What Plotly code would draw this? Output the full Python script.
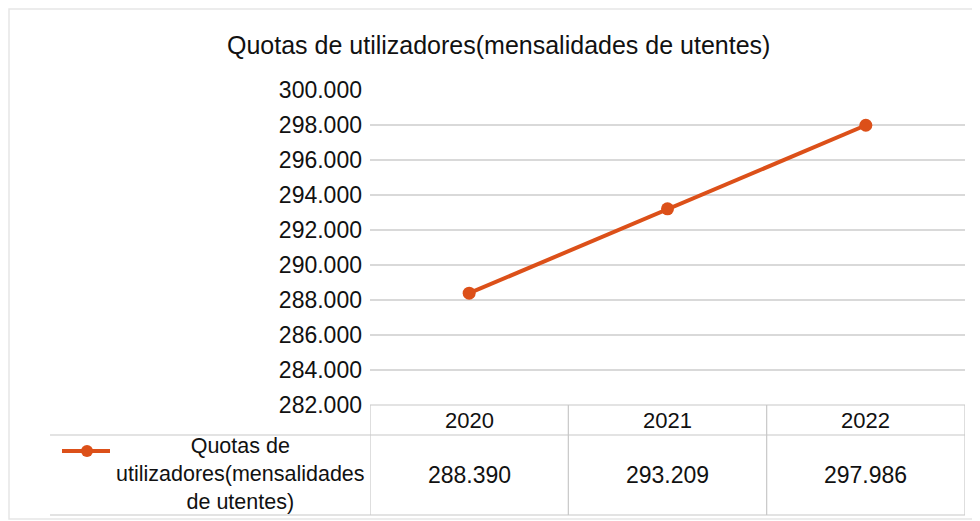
import plotly.graph_objects as go

categories = ["2020", "2021", "2022"]
values = [288390, 293209, 297986]
series_name = "Quotas de utilizadores(mensalidades de utentes)"
legend_label = "Quotas de<br>utilizadores(mensalidades<br>de utentes)"
title_text = "Quotas de utilizadores(mensalidades de utentes)"
y_min, y_max, y_step = 282000, 300000, 2000

OFF = 8  # page body margin in browser
W, H = 980 - OFF, 521 - OFF
# plot area in window pixels: x 370..965, y 90..405
L, R = 370 - OFF, 980 - 965
T, B = 90 - OFF, 521 - 405
PW = W - L - R
PH = H - T - B
color = "#DC5019"
grid = "#D9D9D9"
txt = "#111111"
font_family = "Liberation Sans, Arial, sans-serif"


def xp(px):
    return (px - 370) / PW


def yp(py):
    return (405 - py) / PH


def fmt(v):
    return f"{v:,}".replace(",", ".")


fig = go.Figure()
fig.add_trace(go.Scatter(
    x=categories, y=values, mode="lines+markers", name=series_name,
    line=dict(color=color, width=4),
    marker=dict(color=color, size=13, symbol="circle"),
    showlegend=False, hoverinfo="skip",
))

shapes = []
line_style = dict(color="#C8C8C8", width=1.2)
# chart border
shapes.append(dict(type="rect", xref="paper", yref="paper", x0=xp(9), x1=xp(976), y0=yp(9), y1=yp(519),
                   line=dict(color="#E6E6E6", width=1.5)))
# table horizontal lines
shapes.append(dict(type="line", xref="paper", yref="paper", x0=xp(370), x1=xp(965), y0=yp(405), y1=yp(405), line=line_style))
shapes.append(dict(type="line", xref="paper", yref="paper", x0=xp(50), x1=xp(965), y0=yp(435), y1=yp(435), line=line_style))
shapes.append(dict(type="line", xref="paper", yref="paper", x0=xp(50), x1=xp(965), y0=yp(515), y1=yp(515), line=line_style))
# table vertical lines at category boundaries
n = len(categories)
for i in range(n + 1):
    shapes.append(dict(type="line", xref="x", yref="paper", x0=i - 0.5, x1=i - 0.5, y0=yp(405), y1=yp(515), line=line_style))
# legend key
shapes.append(dict(type="line", xref="paper", yref="paper", x0=xp(62), x1=xp(110), y0=yp(451), y1=yp(451),
                   line=dict(color=color, width=4)))
shapes.append(dict(type="circle", xref="paper", yref="paper", x0=xp(81), x1=xp(93), y0=yp(445), y1=yp(457),
                   fillcolor=color, line=dict(color=color, width=0)))

annotations = []
annotations.append(dict(text=title_text, xref="paper", yref="paper", x=xp(498), y=yp(45), showarrow=False,
                        font=dict(size=25, color=txt, family=font_family), xanchor="center", yanchor="middle"))
for i, c in enumerate(categories):
    annotations.append(dict(text=c, xref="x", yref="paper", x=i, y=yp(420), showarrow=False,
                            font=dict(size=22, color=txt, family=font_family), xanchor="center", yanchor="middle"))
    annotations.append(dict(text=fmt(values[i]), xref="x", yref="paper", x=i, y=yp(475), showarrow=False,
                            font=dict(size=23, color=txt, family=font_family), xanchor="center", yanchor="middle"))
annotations.append(dict(text=legend_label, xref="paper", yref="paper",
                        x=xp(240), y=yp(474), showarrow=False, align="center",
                        font=dict(size=21.5, color=txt, family=font_family), xanchor="center", yanchor="middle"))

fig.update_layout(
    width=W, height=H,
    margin=dict(l=L, r=R, t=T, b=B, autoexpand=False),
    paper_bgcolor="white", plot_bgcolor="white",
    separators=",.",
    shapes=shapes, annotations=annotations,
    xaxis=dict(type="category", range=[-0.5, n - 0.5], showticklabels=False, showgrid=False,
               zeroline=False, showline=False, ticks=""),
    yaxis=dict(range=[y_min, y_max], dtick=y_step, tick0=y_min, tickformat=",d",
               showgrid=True, gridcolor=grid, gridwidth=1.5, zeroline=False, showline=False,
               ticks="", ticklabelstandoff=7,
               tickfont=dict(size=23, color=txt, family=font_family)),
    font=dict(family=font_family),
)

fig.write_html("out.html")
